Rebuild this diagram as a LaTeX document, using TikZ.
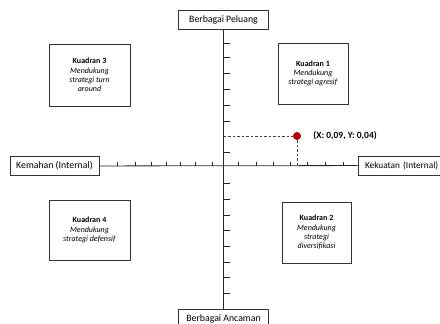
\documentclass[tikz,border=0pt]{standalone}
\usepackage{fontspec}
\setmainfont{Carlito}
\usetikzlibrary{positioning}
\tikzset{
	axisbox/.style={draw=black!80, line width=.8pt, inner sep=0pt, minimum width=90, minimum height=19, font=\fontsize{9.8}{11}\selectfont},
	quadbox/.style={draw=black!80, line width=.8pt, inner sep=0pt, align=center, font=\fontsize{8}{9.3}\selectfont},
	tick/.style={draw=black!85, line width=.7pt}
}
\begin{document}
\begin{tikzpicture}[x=1pt,y=-1pt]
		\useasboundingbox (0,0) rectangle (440,324);
		\clip (0,0) rectangle (440,324);
		%Axis labels
		\node[axisbox] (peluang) at (223.5,20) {Berbagai Peluang};
		\node[axisbox] (ancaman) at (223.5,319) {Berbagai Ancaman};
		\node[axisbox, minimum width=89] (kemahan) at (54.5,166) {Kemahan (Internal)};
		\node[axisbox, text width=82, align=left, font=\fontsize{9.3}{11}\selectfont] (kekuatan) at (403,165.5) {\hspace*{3pt}Kekuatan (Internal)};
		\coordinate (o) at (223.5,166);
		%Axes
		\draw[line width=.8pt, black!85] (peluang) -- (ancaman);
		\draw[line width=.8pt, black!85] (kemahan) -- (kekuatan);
		%Ticks
		\foreach \x in {117,135,151,166,180,195,212,238,256,273,290,307,325,343}
		\draw[tick] (\x,166) -- (\x,162);
		\foreach \y in {43,57,73,89,105,121,152,183,199,215,230,246,262,277,293}
		\draw[tick] (223.5,\y) -- (229.5,\y);
		%Quadrants
		\node[quadbox, minimum width=81, minimum height=62] (k3) at (89.5,75) {\textbf{Kuadran 3}\\\textit{Mendukung}\\\textit{strategi turn}\\\textit{around}};
		\node[quadbox, minimum width=70, minimum height=61] (k1) at (313,73.5) {\textbf{Kuadran 1}\\\textit{Mendukung}\\\textit{strategi agresif}};
		\node[quadbox, minimum width=81, minimum height=60] (k4) at (89.5,230) {\textbf{Kuadran 4}\\\textit{Mendukung}\\\textit{strategi defensif}};
		\node[quadbox, minimum width=69, minimum height=61] (k2) at (316.5,232.5) {\textbf{Kuadran 2}\\\textit{Mendukung}\\\textit{strategi}\\\textit{diversifikasi}};
		%Position point
		\node[circle, fill=red!70!black, inner sep=0pt, minimum size=8] (titik) at (297,136) {};
		\node[right=12pt of titik, inner sep=0pt, font=\fontsize{9.5}{11}\selectfont\bfseries] (posisi) {(X: 0,09, Y: 0,04)};
		\draw[black!75, line width=.6pt, dash pattern=on 2.5pt off 2pt] (titik -| o) -- (titik);
		\draw[black!75, line width=.6pt, dash pattern=on 2.5pt off 2pt] (titik) -- (titik |- o);
		\end{tikzpicture}
\end{document}
